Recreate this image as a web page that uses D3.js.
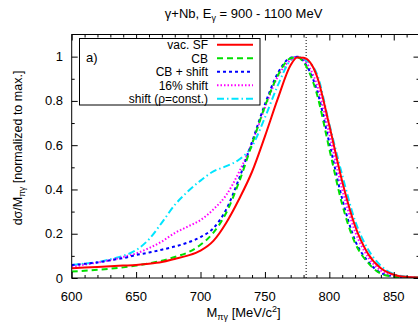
<!DOCTYPE html>
<html><head><meta charset="utf-8">
<script src="https://cdn.jsdelivr.net/npm/d3@7"></script>
<style>body{margin:0;background:#fff}svg{display:block;font-family:"Liberation Sans",Arial,sans-serif}</style>
</head><body><svg id="c" width="418" height="323"></svg>
<script>
const xs = [600,610,620,630,640,650,660,670,680,690,700,710,720,730,740,750,760,770,775,780,790,800,810,820,830,840,850,860,870];
const vacSF =   [0.044,0.047,0.050,0.053,0.056,0.059,0.064,0.072,0.086,0.101,0.124,0.168,0.25,0.357,0.48,0.64,0.81,0.962,0.996,0.995,0.918,0.689,0.436,0.235,0.110,0.044,0.015,0.005,0.002];
const cb =      [0.029,0.033,0.037,0.042,0.048,0.056,0.066,0.078,0.095,0.115,0.150,0.205,0.295,0.435,0.605,0.775,0.915,0.993,0.997,0.975,0.838,0.583,0.332,0.158,0.069,0.020,0.006,0.002,0.001];
const cbShift = [0.059,0.064,0.070,0.080,0.090,0.104,0.115,0.128,0.142,0.160,0.185,0.225,0.31,0.45,0.615,0.785,0.925,0.995,0.999,0.978,0.855,0.61,0.357,0.17,0.075,0.023,0.007,0.002,0.001];
const shift16 = [0.051,0.060,0.070,0.080,0.095,0.111,0.135,0.165,0.203,0.232,0.262,0.310,0.375,0.48,0.61,0.77,0.91,0.985,1.0,0.985,0.88,0.65,0.40,0.21,0.095,0.033,0.010,0.003,0.001];
const shiftRho= [0.059,0.065,0.072,0.085,0.100,0.126,0.175,0.25,0.33,0.39,0.44,0.482,0.505,0.535,0.595,0.725,0.87,0.985,1.0,0.99,0.927,0.695,0.465,0.258,0.13,0.055,0.018,0.006,0.002];
const seriesNames = ["vac. SF","CB","CB + shift","16% shift","shift (\u03c1=const.)"];
const xTicks = [600,650,700,750,800,850];
const yTicks = [0,0.2,0.4,0.6,0.8,1];
const omegaMass = 782;

const svg = d3.select("#c");
const FS = 13;
const L=71.7, R=419.5, T=34.5, B=278;
const x = d3.scaleLinear().domain([600,870]).range([L,R]);
const y = d3.scaleLinear().domain([0,1.1]).range([B,T]);

const series = [
  {name:seriesNames[0], v:vacSF, color:"#ff0000", dash:null},
  {name:seriesNames[1], v:cb, color:"#00e000", dash:"6,4"},
  {name:seriesNames[2], v:cbShift, color:"#0000ff", dash:"3,3"},
  {name:seriesNames[3], v:shift16, color:"#ff00ff", dash:"1.5,2"},
  {name:seriesNames[4], v:shiftRho, color:"#00e5ff", dash:"7,3,1.5,3"}
];

svg.append("clipPath").attr("id","pc").append("rect").attr("x",L).attr("y",T).attr("width",R-L).attr("height",B-T);

svg.append("line").attr("x1",x(omegaMass)).attr("x2",x(omegaMass)).attr("y1",B).attr("y2",T)
  .attr("stroke","#000").attr("stroke-width",1).attr("stroke-dasharray","1,2");

const line = d3.line().x((d,i)=>x(xs[i])).y(d=>y(d)).curve(d3.curveMonotoneX);
const g = svg.append("g").attr("clip-path","url(#pc)");
series.slice().reverse().forEach(s=>{
  g.append("path").attr("d",line(s.v)).attr("fill","none").attr("stroke",s.color)
   .attr("stroke-width",2).attr("stroke-dasharray",s.dash);
});

const xMinor = d3.range(600,871,10).filter(v=>v%50!==0);
const yMinor = d3.range(1,11,2).map(v=>v/10);
const ax = svg.append("g");
function addAxis(gen, tr){ const a = ax.append("g").attr("transform",tr).call(gen); a.select(".domain").remove(); a.selectAll("text").remove(); a.selectAll("line").attr("stroke","#000"); }
addAxis(d3.axisTop(x).tickValues(xTicks).tickSize(6), `translate(0,${B})`);
addAxis(d3.axisTop(x).tickValues(xMinor).tickSize(3), `translate(0,${B})`);
addAxis(d3.axisBottom(x).tickValues(xTicks).tickSize(6), `translate(0,${T})`);
addAxis(d3.axisBottom(x).tickValues(xMinor).tickSize(3), `translate(0,${T})`);
addAxis(d3.axisRight(y).tickValues(yTicks).tickSize(6), `translate(${L},0)`);
addAxis(d3.axisRight(y).tickValues(yMinor).tickSize(3), `translate(${L},0)`);
addAxis(d3.axisLeft(y).tickValues(yTicks).tickSize(6), `translate(${R},0)`);
addAxis(d3.axisLeft(y).tickValues(yMinor).tickSize(3), `translate(${R},0)`);

svg.append("rect").attr("x",L).attr("y",T).attr("width",R-L).attr("height",B-T)
  .attr("fill","none").attr("stroke","#000").attr("stroke-width",1);

svg.append("g").selectAll("text").data(xTicks).join("text")
  .attr("x",d=>x(d)).attr("y",300.5).attr("text-anchor","middle").attr("font-size",FS).text(d=>d);
svg.append("g").selectAll("text").data(yTicks).join("text")
  .attr("x",63).attr("y",d=>y(d)).attr("dy","0.35em").attr("text-anchor","end").attr("font-size",FS).text(d=>d);

const t = svg.append("text").attr("x",(L+R)/2 - 2).attr("y",18).attr("text-anchor","middle").attr("font-size",FS);
t.append("tspan").text("\u03b3+Nb, E");
t.append("tspan").attr("font-size",9).attr("dy",3).text("\u03b3");
t.append("tspan").attr("dy",-3).text(" = 900 - 1100 MeV");

const xl = svg.append("text").attr("x",(L+R)/2 - 2).attr("y",317).attr("text-anchor","middle").attr("font-size",FS);
xl.append("tspan").text("M");
xl.append("tspan").attr("font-size",9).attr("dy",3).text("\u03c0\u03b3");
xl.append("tspan").attr("dy",-3).text(" [MeV/c");
xl.append("tspan").attr("font-size",9).attr("dy",-5).text("2");
xl.append("tspan").attr("dy",5).text("]");

const yl = svg.append("text").attr("transform","translate(22,148) rotate(-90)").attr("text-anchor","middle").attr("font-size",12.5);
yl.append("tspan").text("d\u03c3/M");
yl.append("tspan").attr("font-size",8.5).attr("dy",3).text("\u03c0\u03b3");
yl.append("tspan").attr("dy",-3).text(" [normalized to max.]");

svg.append("rect").attr("x",79.5).attr("y",38.5).attr("width",180.5).attr("height",66.5)
  .attr("fill","#fff").attr("stroke","#000").attr("stroke-width",1);
svg.append("text").attr("x",86).attr("y",61.5).attr("font-size",FS).text("a)");
const LFS = 12;
series.forEach((s,i)=>{
  const yy = 44.8 + i*13.5;
  svg.append("text").attr("x",208).attr("y",yy).attr("dy","0.35em").attr("text-anchor","end").attr("font-size",LFS).text(s.name);
  svg.append("line").attr("x1",217).attr("x2",253).attr("y1",yy).attr("y2",yy)
    .attr("stroke",s.color).attr("stroke-width",2).attr("stroke-dasharray",s.dash);
});
</script></body></html>
